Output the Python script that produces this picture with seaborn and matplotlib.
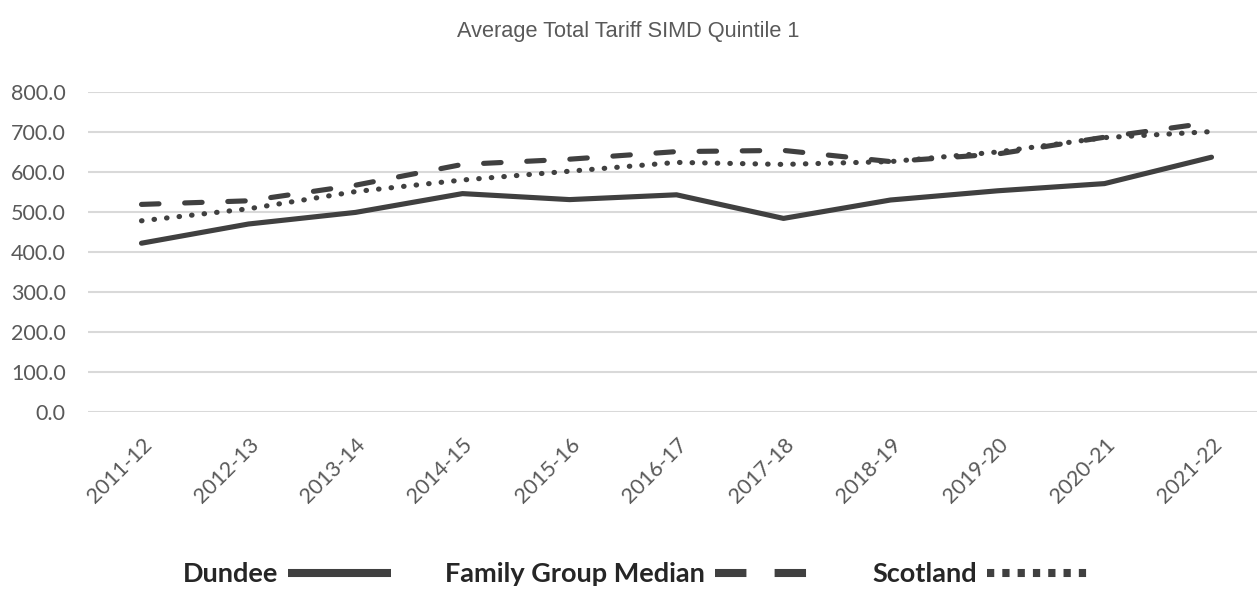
import pandas as pd
import seaborn as sns
import numpy as np
import matplotlib.pyplot as plt
from matplotlib.lines import Line2D

years = ["2011-12", "2012-13", "2013-14", "2014-15", "2015-16", "2016-17",
         "2017-18", "2018-19", "2019-20", "2020-21", "2021-22"]
dundee = [422, 470, 499, 546, 531, 543, 484, 530, 553, 571, 637]
family_group = [519, 528, 567, 619, 632, 651, 654, 626, 645, 687, 724]
scotland = [478, 508, 551, 580, 602, 624, 619, 626, 650, 686, 701]

series_names = ["Dundee", "Family Group Median", "Scotland"]

df = pd.DataFrame({
    "idx": list(range(len(years))) * 3,
    "value": dundee + family_group + scotland,
    "series": [s for s in series_names for _ in years],
})

line_col = "#404040"
text_col = "#595959"
grid_col = "#d9d9d9"

sns.set_style("white")
plt.rcParams["font.family"] = ["Lato", "DejaVu Sans"]

fig = plt.figure(figsize=(12.57, 5.89), dpi=100)
ax = fig.add_axes([88 / 1257, 177 / 589, 1177 / 1257, 320 / 589])

sns.lineplot(data=df, x="idx", y="value", hue="series", style="series",
             palette=[line_col] * 3,
             dashes={"Dundee": "", "Family Group Median": (3.4, 5.0), "Scotland": (0.1, 2.35)},
             linewidth=3.7, legend=False, ax=ax)
for ln in ax.lines:
    ln.set_dash_capstyle("round")
    ln.set_solid_capstyle("round")

ax.set_xlim(-0.5, len(years) - 0.5)
ax.set_ylim(0, 800)
ax.set_yticks(np.arange(0, 801, 100))
ax.set_yticklabels([f"{v:.1f}" for v in np.arange(0, 801, 100)])
ax.set_xticks(range(len(years)))
ax.set_xticklabels(years, rotation=45, ha="right", va="top", rotation_mode="anchor")
ax.set_xlabel("")
ax.set_ylabel("")
ax.yaxis.grid(True, color=grid_col, linewidth=1.5)
ax.xaxis.grid(False)
ax.set_axisbelow(True)
for sp in ax.spines.values():
    sp.set_visible(False)
ax.tick_params(axis="y", length=0, pad=16, labelsize=15.5, labelcolor=text_col)
ax.tick_params(axis="x", length=0, pad=16, labelsize=15.5, labelcolor=text_col)

fig.text(0.5, 1 - 32 / 589, "Average Total Tariff SIMD Quintile 1", ha="center", va="center",
         fontsize=15.7, color=text_col, family="Liberation Sans")

# legend: text first, then the line sample
handles = [
    Line2D([], [], color=line_col, lw=5.8, solid_capstyle="butt"),
    Line2D([], [], color=line_col, lw=5.8, dashes=(3.9, 3.5), dash_capstyle="butt"),
    Line2D([], [], color=line_col, lw=5.8, dashes=(0.9, 1.0), dash_capstyle="butt"),
]
fig.legend(handles, series_names, loc="center", bbox_to_anchor=(636 / 1257, 15 / 589),
           ncol=3, frameon=False, markerfirst=False, handlelength=3.8,
           handletextpad=0.37, columnspacing=2.0,
           prop={"family": "Lato", "weight": "bold", "size": 19.5})

fig.savefig("out.png", dpi=100)
